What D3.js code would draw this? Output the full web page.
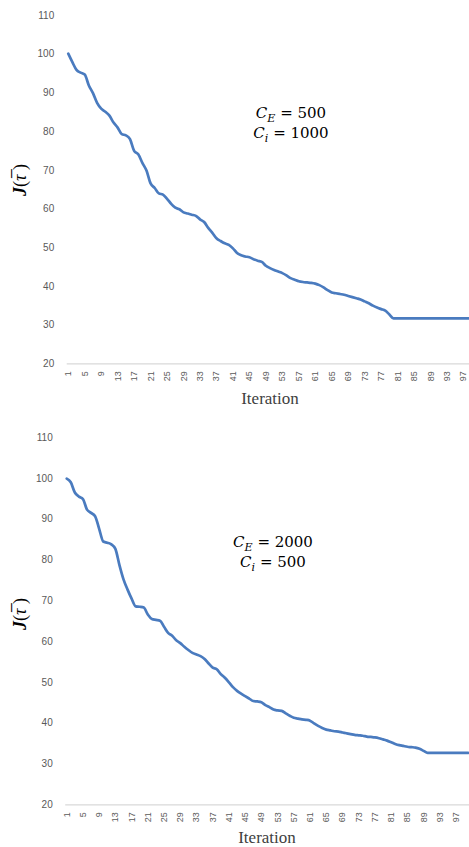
<!DOCTYPE html>
<html lang="en">
<head>
<meta charset="UTF-8">
<title>Iteration charts</title>
<script src="https://cdnjs.cloudflare.com/ajax/libs/d3/7.8.5/d3.min.js"></script>
<style>
body{ margin:0; background:#fff; }
svg{ display:block; }
.tick-label{ font-family:"Liberation Sans", Arial, sans-serif; fill:#595959; }
.axis-title{ font-family:"Liberation Serif", "Times New Roman", serif; fill:#404040; font-size:17px; }
.note{ font-family:"DejaVu Serif", "Liberation Serif", serif; font-size:15px; fill:#000; }
.ylab{ font-family:"Liberation Serif", "Times New Roman", serif; font-size:18px; fill:#000; }
</style>
</head>
<body>
<svg id="chart" width="469" height="847"></svg>
<script>
// categories 1..100 (x axis), label shown every 4th
var iterations = d3.range(1, 101);
var yTicks = [20, 30, 40, 50, 60, 70, 80, 90, 100, 110];

// C_E = 500, C_i = 1000
var costTop = [
  100, 97.8, 95.8, 95.1, 94.6, 91.8, 89.8, 87.3, 85.8, 85,
  84, 82.2, 80.9, 79.2, 78.9, 77.9, 74.9, 74.0, 71.8, 69.8,
  66.5, 65.3, 63.9, 63.6, 62.5, 61.2, 60.2, 59.8, 59.0, 58.7,
  58.4, 58.1, 57.2, 56.5, 55.0, 53.7, 52.3, 51.6, 51.0, 50.6,
  49.7, 48.5, 47.9, 47.6, 47.4, 46.9, 46.5, 46.2, 45.2, 44.6,
  44.1, 43.7, 43.3, 42.7, 42.0, 41.6, 41.2, 41.0, 40.9, 40.8,
  40.6, 40.2, 39.6, 38.9, 38.3, 38.1, 37.9, 37.7, 37.4, 37.1,
  36.8, 36.5, 36.0, 35.5, 34.9, 34.4, 34.0, 33.6, 32.6, 31.6,
  31.6, 31.6, 31.6, 31.6, 31.6, 31.6, 31.6, 31.6, 31.6, 31.6,
  31.6, 31.6, 31.6, 31.6, 31.6, 31.6, 31.6, 31.6, 31.6, 31.6
];

// C_E = 2000, C_i = 500
var costBottom = [
  99.8, 98.9, 96.4, 95.4, 94.8, 92.2, 91.4, 90.6, 87.5, 84.4,
  84.1, 83.7, 82.6, 78.6, 75.1, 72.6, 70.4, 68.5, 68.4, 68.2,
  66.5, 65.4, 65.2, 65.0, 63.5, 62.0, 61.3, 60.2, 59.5, 58.6,
  57.8, 57.1, 56.7, 56.3, 55.6, 54.5, 53.5, 53.1, 51.9, 51.0,
  49.9, 48.7, 47.8, 47.1, 46.5, 45.9, 45.3, 45.2, 45.0, 44.3,
  43.8, 43.2, 43.0, 42.9, 42.3, 41.7, 41.2, 41.0, 40.8, 40.7,
  40.5, 39.8, 39.2, 38.7, 38.3, 38.1, 37.9, 37.8, 37.6, 37.4,
  37.2, 37.0, 36.9, 36.8, 36.6, 36.5, 36.4, 36.2, 35.9, 35.6,
  35.2, 34.8, 34.5, 34.3, 34.1, 34.0, 33.9, 33.6, 33.1, 32.6,
  32.6, 32.6, 32.6, 32.6, 32.6, 32.6, 32.6, 32.6, 32.6, 32.6
];

var svg = d3.select('#chart');

function drawChart(opt){
  var g = svg.append('g');

  var x = d3.scaleBand()
    .domain(iterations)
    .range([opt.x0, opt.x0 + iterations.length * opt.step])
    .padding(0);
  var y = d3.scaleLinear().domain([20, 110]).range([opt.yBottom, opt.yTop]);

  // y labels (no axis line)
  var yAxis = d3.axisLeft(y).tickValues(yTicks).tickSize(0).tickPadding(0);
  var ya = g.append('g')
    .attr('transform', 'translate(' + (opt.x0 - 12) + ',0)')
    .call(yAxis);
  ya.select('.domain').remove();
  ya.selectAll('text').attr('class', 'tick-label').attr('font-size', '10px');

  // x axis
  var xAxis = d3.axisBottom(x)
    .tickValues(iterations.filter(function(d){ return (d - 1) % 4 === 0; }))
    .tickSize(0);
  var xa = g.append('g')
    .attr('transform', 'translate(0,' + opt.yBottom + ')')
    .call(xAxis);
  xa.select('.domain').attr('stroke', '#d9d9d9').attr('stroke-width', 1.3);
  xa.selectAll('text')
    .attr('class', 'tick-label')
    .attr('font-size', '9px')
    .attr('transform', 'rotate(-90)')
    .attr('text-anchor', 'end')
    .attr('x', -8)
    .attr('y', 0)
    .attr('dy', '0.33em');

  // line
  var line = d3.line()
    .x(function(d, i){ return x(iterations[i]) + x.bandwidth() / 2; })
    .y(function(d){ return y(d); })
    .curve(d3.curveMonotoneX);
  g.append('path')
    .datum(opt.values)
    .attr('fill', 'none')
    .attr('stroke', '#4a7bbf')
    .attr('stroke-width', 2.7)
    .attr('stroke-linejoin', 'round')
    .attr('stroke-linecap', 'round')
    .attr('d', line);

  // axis titles
  g.append('text')
    .attr('class', 'axis-title')
    .attr('x', opt.titleX)
    .attr('y', opt.yBottom + opt.titleDy)
    .attr('text-anchor', 'middle')
    .text('Iteration');

  var yl = g.append('text')
    .attr('class', 'ylab')
    .attr('transform', 'translate(26,' + opt.ylabY + ') rotate(-90)')
    .attr('text-anchor', 'middle');
  yl.append('tspan').attr('font-weight', 'bold').attr('font-style', 'italic').text('J');
  yl.append('tspan').text('(');
  yl.append('tspan').attr('font-style', 'italic').text('\u03C4\u0305');
  yl.append('tspan').text(' )');

  // parameter note
  opt.note.forEach(function(n, k){
    var t = g.append('text')
      .attr('class', 'note')
      .attr('x', opt.noteX)
      .attr('y', opt.noteY + k * 20)
      .attr('text-anchor', 'middle');
    t.append('tspan').attr('font-style', 'italic').text('C');
    t.append('tspan').attr('font-style', 'italic').attr('font-size', '11px').attr('dy', 4).text(n[0]);
    t.append('tspan').attr('dy', -4).text(' = ' + n[1]);
  });
}

drawChart({
  values: costTop, x0: 66.2, step: 4.117, yTop: 15, yBottom: 363.3,
  titleX: 270, titleDy: 40.5, ylabY: 180, noteX: 291, noteY: 118,
  note: [['E', '500'], ['i', '1000']]
});

drawChart({
  values: costBottom, x0: 64.7, step: 4.055, yTop: 437, yBottom: 804.3,
  titleX: 267, titleDy: 38.5, ylabY: 614, noteX: 273, noteY: 547,
  note: [['E', '2000'], ['i', '500']]
});
</script>
</body>
</html>
